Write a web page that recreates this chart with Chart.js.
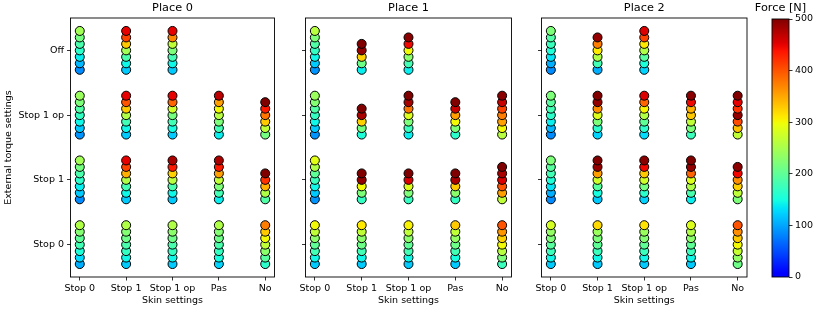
<!DOCTYPE html>
<html><head><meta charset="utf-8">
<script src="https://cdn.jsdelivr.net/npm/chart.js@4.4.1/dist/chart.umd.min.js"></script>
<style>
html,body{margin:0;padding:0;background:#fff;width:830px;height:312px;overflow:hidden}
canvas{position:absolute;top:0}
</style></head><body>
<canvas id="p0" width="280" height="312" style="left:0px"></canvas>
<canvas id="p1" width="230" height="312" style="left:290px"></canvas>
<canvas id="p2" width="230" height="312" style="left:526px"></canvas>
<canvas id="cb" width="81" height="312" style="left:740px"></canvas>
<script>
// ---- data ----
const skinSettings = ['Stop 0', 'Stop 1', 'Stop 1 op', 'Pas', 'No'];
const torqueSettings = ['Stop 0', 'Stop 1', 'Stop 1 op', 'Off'];
const placeTitles = ['Place 0', 'Place 1', 'Place 2'];
const forceTicks = [0, 100, 200, 300, 400, 500];
const forceMax = 500;

// rows follow torqueSettings order; each row lists skinSettings columns; values bottom-to-top [N]
const place0 = [
  [[105,130,155,180,200,225,255],[120,145,170,185,210,225,255],[120,145,170,185,210,230,255],[125,150,170,185,210,225,255],[165,195,230,265,300,330,375]],
  [[85,120,140,165,185,215,245],[120,145,180,255,345,410,450],[120,145,185,260,325,435,480],[140,180,220,265,355,435,480],[190,255,345,420,500]],
  [[90,120,145,170,190,220,240],[120,145,180,255,330,400,450],[120,150,180,215,275,390,450],[140,180,220,260,300,355,470],[215,265,330,380,435,500]],
  [[85,110,140,165,185,215,245],[120,145,185,245,330,410,450],[120,145,180,220,265,370,450],[],[]]
];
const place1 = [
  [[120,145,180,200,230,265,300],[120,145,180,210,230,265,310],[120,145,180,200,230,265,305],[120,150,180,210,235,265,330],[175,220,260,300,325,360,400]],
  [[90,120,145,175,200,255,290],[170,220,300,490,500],[170,220,285,455,500],[170,230,330,480,500],[265,355,400,455,480,500]],
  [[90,120,145,170,190,225,240],[155,215,325,480,500],[140,175,220,285,380,480,500],[165,220,300,355,465,500],[260,300,355,375,410,465,495]],
  [[90,120,145,170,190,220,260],[140,210,325,490,500],[140,180,230,300,445,495],[],[]]
];
const place2 = [
  [[120,145,175,195,220,235,280],[120,145,175,200,220,240,320],[120,145,175,200,225,240,315],[120,145,175,200,230,255,285],[210,235,270,300,330,365,400]],
  [[85,105,135,155,180,195,220],[120,150,195,275,355,490,500],[125,165,215,275,330,445,495],[140,185,255,285,390,490,500],[220,265,325,365,445,495]],
  [[85,110,140,165,180,195,220],[125,165,220,285,365,490,500],[130,165,200,255,305,390,455],[175,220,265,330,345,445,495],[265,335,405,490,420,450,500]],
  [[85,105,135,155,175,190,220],[105,180,255,310,375,490],[125,155,195,255,310,410,455],[],[]]
];
const places = [place0, place1, place2];

// ---- jet colormap (matplotlib segment data), used from pure blue upward ----
const JET = {
  r: [[0,0],[0.35,0],[0.66,1],[0.89,1],[1,0.5]],
  g: [[0,0],[0.125,0],[0.375,1],[0.64,1],[0.91,0],[1,0]],
  b: [[0,0.5],[0.11,1],[0.34,1],[0.65,0],[1,0]]
};
const CMAP_START = 0.11;
function seg(s, f) {
  for (let i = 1; i < s.length; i++) {
    if (f <= s[i][0]) { const [x0,y0] = s[i-1], [x1,y1] = s[i]; return y0 + (y1-y0)*(f-x0)/(x1-x0); }
  }
  return s[s.length-1][1];
}
function jet(t) {
  t = Math.max(0, Math.min(1, t));
  const f = CMAP_START + (1 - CMAP_START) * t;
  return 'rgb(' + Math.round(seg(JET.r,f)*255) + ',' + Math.round(seg(JET.g,f)*255) + ',' + Math.round(seg(JET.b,f)*255) + ')';
}

Chart.defaults.font.family = 'DejaVu Sans';
Chart.defaults.color = '#000';
Chart.defaults.animation = false;

const framePlugin = {
  id: 'frame',
  afterDraw(chart) {
    const {ctx, chartArea: a} = chart;
    ctx.save();
    ctx.strokeStyle = '#000';
    ctx.lineWidth = 0.9;
    ctx.strokeRect(a.left, a.top, a.right - a.left, a.bottom - a.top);
    ctx.restore();
  }
};

const tickGrid = {display: true, drawOnChartArea: false, drawTicks: true, tickLength: 3.5, color: '#000', lineWidth: 0.8};

function makePanel(id, idx, yWidth, padRight) {
  const rows = places[idx];
  const pts = [];
  rows.forEach((row, r) => row.forEach((vals, c) => vals.forEach((v, k) => {
    pts.push({x: c, y: r - 0.3 + 0.1 * k, v: v});
  })));
  new Chart(document.getElementById(id), {
    type: 'scatter',
    data: {datasets: [{
      data: pts,
      pointRadius: 4.5,
      pointHoverRadius: 4.5,
      pointBorderWidth: 1,
      pointBorderColor: '#000',
      pointBackgroundColor: c => jet(c.raw.v / forceMax)
    }]},
    options: {
      responsive: false,
      devicePixelRatio: 1,
      layout: {padding: {left: 0, right: padRight, top: 0, bottom: 0}},
      plugins: {
        legend: {display: false},
        tooltip: {enabled: false},
        title: {display: true, text: placeTitles[idx], fullSize: false,
          font: {size: 11.3, weight: 'normal'}, color: '#000', padding: {top: 1, bottom: 3.44}}
      },
      scales: {
        x: {
          type: 'linear', min: -0.2, max: 4.2,
          afterBuildTicks: s => { s.ticks = skinSettings.map((_, i) => ({value: i})); },
          afterFit: s => { s.height = 35; },
          ticks: {callback: v => skinSettings[v], font: {size: 9.5}, padding: 2.5, maxRotation: 0, autoSkip: false},
          grid: tickGrid,
          border: {display: false},
          title: {display: true, text: 'Skin settings', font: {size: 9.5}, padding: {top: 0, bottom: 6}}
        },
        y: {
          type: 'linear', min: -0.5, max: 3.5,
          afterBuildTicks: s => { s.ticks = torqueSettings.map((_, i) => ({value: i})); },
          afterFit: s => { s.width = yWidth; },
          ticks: {callback: v => idx === 0 ? torqueSettings[v] : '', font: {size: 9.5}, padding: 3, autoSkip: false},
          grid: tickGrid,
          border: {display: false},
          title: {display: idx === 0, text: 'External torque settings', font: {size: 9.5}, padding: {top: 3, bottom: 0}}
        }
      }
    },
    plugins: [framePlugin]
  });
}

makePanel('p0', 0, 70.5, 5);
makePanel('p1', 1, 15.5, 8.5);
makePanel('p2', 2, 15.5, 9);

// ---- colorbar ----
const gradientPlugin = {
  id: 'cbgrad',
  beforeDatasetsDraw(chart) {
    const {ctx, chartArea: a} = chart;
    const ys = chart.scales.y;
    const g = ctx.createLinearGradient(0, ys.getPixelForValue(0), 0, ys.getPixelForValue(forceMax));
    for (let i = 0; i <= 64; i++) g.addColorStop(i / 64, jet(i / 64));
    ctx.save();
    ctx.fillStyle = g;
    ctx.fillRect(a.left, a.top, a.right - a.left, a.bottom - a.top);
    ctx.restore();
  }
};

new Chart(document.getElementById('cb'), {
  type: 'scatter',
  data: {datasets: [{data: []}]},
  options: {
    responsive: false,
    devicePixelRatio: 1,
    layout: {padding: {left: 0, right: 0, top: 0, bottom: 35}},
    plugins: {
      legend: {display: false},
      tooltip: {enabled: false},
      title: {display: true, text: 'Force [N]', fullSize: true,
        font: {size: 11.3, weight: 'normal'}, color: '#000', padding: {top: 1, bottom: 4.44}}
    },
    scales: {
      x: {display: false, min: 0, max: 1},
      yl: {
        position: 'left', min: 0, max: forceMax,
        afterFit: s => { s.width = 32; },
        ticks: {display: false},
        grid: {display: false},
        border: {display: false}
      },
      y: {
        position: 'right', min: 0, max: forceMax,
        afterBuildTicks: s => { s.ticks = forceTicks.map(v => ({value: v})); },
        afterFit: s => { s.width = 32; },
        ticks: {font: {size: 9.5}, padding: 2.5},
        grid: tickGrid,
        border: {display: false}
      }
    }
  },
  plugins: [gradientPlugin, framePlugin]
});
</script>
</body></html>
